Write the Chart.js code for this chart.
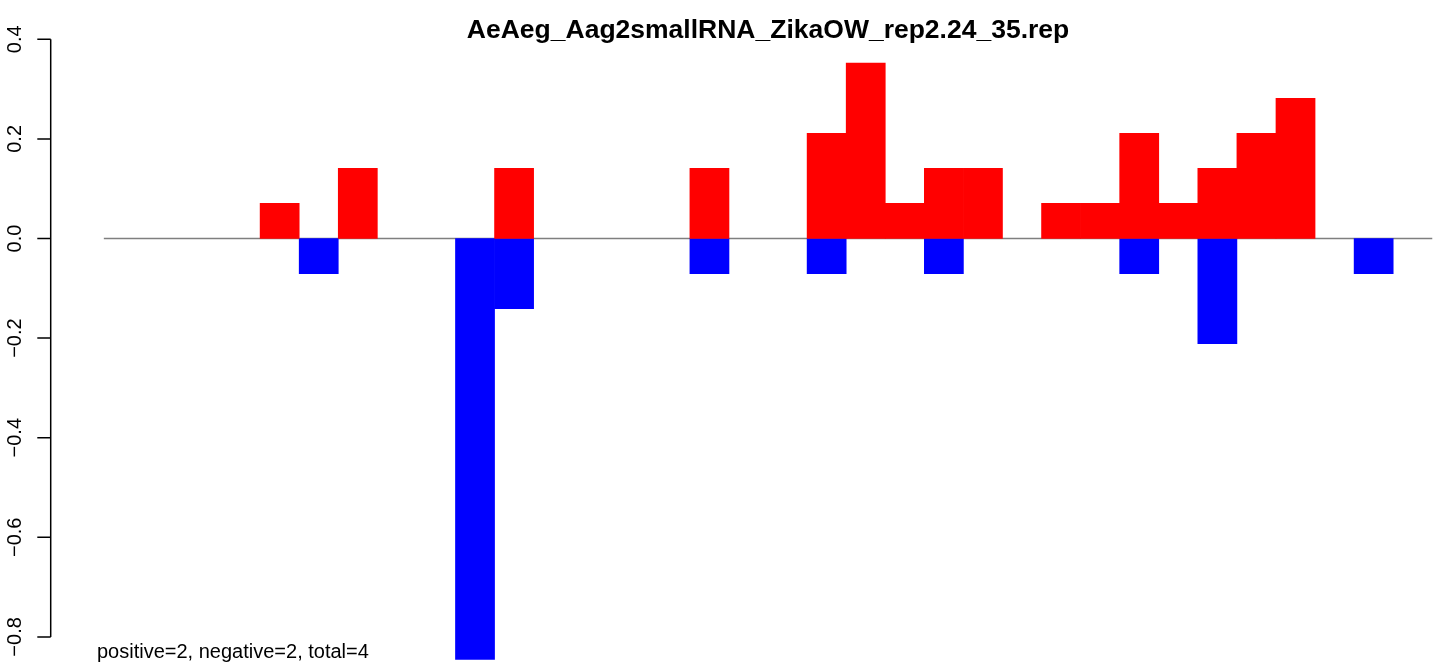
<!DOCTYPE html>
<html><head><meta charset="utf-8">
<script src="https://cdn.jsdelivr.net/npm/chart.js@4/dist/chart.umd.min.js"></script>
<style>
html,body{margin:0;padding:0;overflow:hidden;background:#fff;width:1439px;height:666px}
canvas{display:block}
</style></head>
<body>
<canvas id="c" width="1536" height="666"></canvas>
<script>
const titleText = 'AeAeg_Aag2smallRNA_ZikaOW_rep2.24_35.rep';
const footText = 'positive=2, negative=2, total=4';
const slots = [1,2,3,4,5,6,7,8,9,10,11,12,13,14,15,16,17,18,19,20,21,22,23,24,25,26,27,28,29,30,31,32,33,34];
const positiveValues = [0,0,0,0,0.0704,0,0.1408,0,0,0,0.1408,0,0,0,0,0.1408,0,0,0.2113,0.3521,0.0704,0.1408,0.1408,0,0.0704,0.0704,0.2113,0.0704,0.1408,0.2113,0.2817,0,0,0];
const negativeValues = [0,0,0,0,0,-0.0704,0,0,0,-0.845,-0.1408,0,0,0,0,-0.0704,0,0,-0.0704,0,0,-0.0704,0,0,0,0,-0.0704,0,-0.2113,0,0,0,-0.0704,0];
const yTickValues = [-0.8,-0.6,-0.4,-0.2,0,0.2,0.4];
const yTickLabels = ['\u22120.8','\u22120.6','\u22120.4','\u22120.2','0.0','0.2','0.4'];

const FONT = "'Liberation Sans', Arial, Helvetica, sans-serif";

function toPoints(vals){
  return slots.map((s,i)=>({x: s-0.5, y: vals[i]===0 ? null : vals[i]}));
}

const rAxes = {
  id: 'rAxes',
  beforeDatasetsDraw(chart){
    const ctx = chart.ctx, xs = chart.scales.x, ys = chart.scales.y;
    ctx.save();
    ctx.strokeStyle = '#7f7f7f';
    ctx.lineWidth = 1.5;
    ctx.beginPath();
    const y0 = ys.getPixelForValue(0);
    ctx.moveTo(xs.getPixelForValue(0), y0);
    ctx.lineTo(xs.getPixelForValue(slots.length), y0);
    ctx.stroke();
    ctx.restore();
  },
  afterDraw(chart){
    const ctx = chart.ctx, ys = chart.scales.y, ca = chart.chartArea;
    const ax = ca.left;
    ctx.save();
    ctx.strokeStyle = '#000';
    ctx.lineWidth = 1.5;
    ctx.beginPath();
    ctx.moveTo(ax, ys.getPixelForValue(yTickValues[0]));
    ctx.lineTo(ax, ys.getPixelForValue(yTickValues[yTickValues.length-1]));
    yTickValues.forEach(v=>{
      const py = ys.getPixelForValue(v);
      ctx.moveTo(ax, py); ctx.lineTo(ax-13.4, py);
    });
    ctx.stroke();
    ctx.fillStyle = '#000';
    ctx.font = '20px ' + FONT;
    ctx.textAlign = 'center';
    ctx.textBaseline = 'alphabetic';
    yTickValues.forEach((v,i)=>{
      const py = ys.getPixelForValue(v);
      ctx.save();
      ctx.translate(ax-29.5, py);
      ctx.rotate(-Math.PI/2);
      ctx.fillText(yTickLabels[i], 0, 0);
      ctx.restore();
    });
    ctx.textAlign = 'left';
    ctx.fillText(footText, ax+46.3, 658);
    ctx.restore();
  }
};

new Chart(document.getElementById('c'), {
  type: 'bar',
  data: {
    datasets: [
      {label:'positive', data: toPoints(positiveValues), backgroundColor:'#ff0000', borderWidth:0, grouped:false, barPercentage:1, categoryPercentage:1},
      {label:'negative', data: toPoints(negativeValues), backgroundColor:'#0000ff', borderWidth:0, grouped:false, barPercentage:1, categoryPercentage:1}
    ]
  },
  options: {
    responsive:false,
    animation:false,
    devicePixelRatio:1,
    layout:{padding:{left:50.7,right:50.6,top:0,bottom:0}},
    scales:{
      x:{type:'linear', min:-1.36, max:35.36, offset:false, display:false},
      y:{type:'linear', min:-0.85843, max:0.38494, display:false}
    },
    plugins:{
      legend:{display:false},
      tooltip:{enabled:false},
      title:{display:true, text:titleText, color:'#000', font:{family:FONT, size:26.5, weight:'bold', lineHeight:1.2}, padding:{top:15,bottom:0}}
    }
  },
  plugins:[rAxes]
});
</script>
</body></html>
